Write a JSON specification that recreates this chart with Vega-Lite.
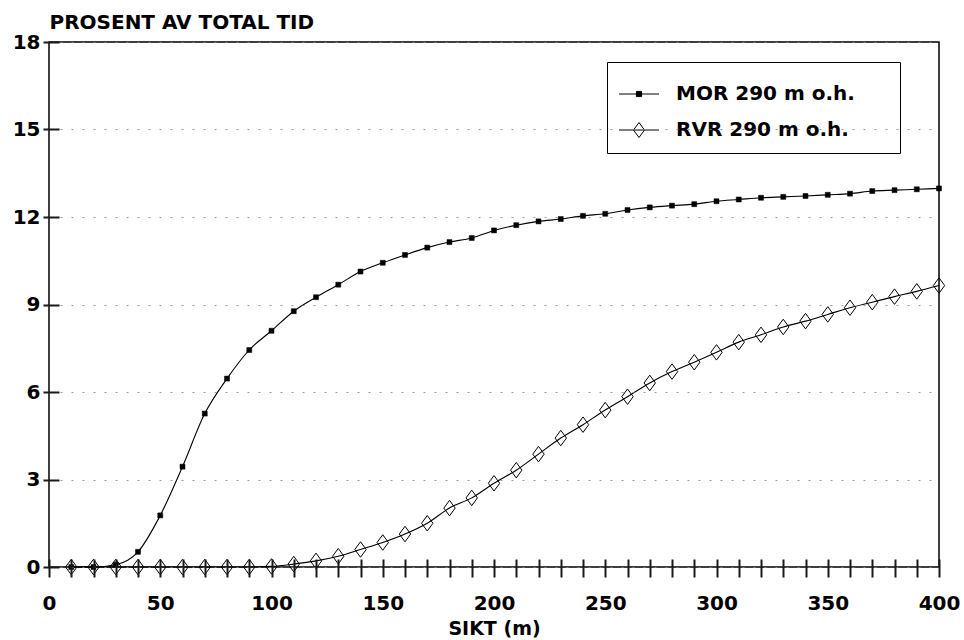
{
  "$schema": "https://vega.github.io/schema/vega-lite/v6.json",
  "width": 890,
  "height": 525,
  "autosize": {"type": "none"},
  "padding": {"left": 49, "top": 42, "right": 25, "bottom": 73},
  "background": "white",
  "config": {
    "view": {"stroke": "black", "strokeWidth": 1.5},
    "font": "DejaVu Sans",
    "axis": {"ticks": true, "tickColor": "#1a1a1a", "tickOpacity": 1}
  },
  "data": {
    "values": [
      {"sikt": 10, "prosent": 0, "serie": "MOR 290 m o.h."},
      {"sikt": 20, "prosent": 0, "serie": "MOR 290 m o.h."},
      {"sikt": 30, "prosent": 0.08, "serie": "MOR 290 m o.h."},
      {"sikt": 40, "prosent": 0.52, "serie": "MOR 290 m o.h."},
      {"sikt": 50, "prosent": 1.77, "serie": "MOR 290 m o.h."},
      {"sikt": 60, "prosent": 3.44, "serie": "MOR 290 m o.h."},
      {"sikt": 70, "prosent": 5.26, "serie": "MOR 290 m o.h."},
      {"sikt": 80, "prosent": 6.46, "serie": "MOR 290 m o.h."},
      {"sikt": 90, "prosent": 7.44, "serie": "MOR 290 m o.h."},
      {"sikt": 100, "prosent": 8.1, "serie": "MOR 290 m o.h."},
      {"sikt": 110, "prosent": 8.77, "serie": "MOR 290 m o.h."},
      {"sikt": 120, "prosent": 9.25, "serie": "MOR 290 m o.h."},
      {"sikt": 130, "prosent": 9.68, "serie": "MOR 290 m o.h."},
      {"sikt": 140, "prosent": 10.13, "serie": "MOR 290 m o.h."},
      {"sikt": 150, "prosent": 10.43, "serie": "MOR 290 m o.h."},
      {"sikt": 160, "prosent": 10.7, "serie": "MOR 290 m o.h."},
      {"sikt": 170, "prosent": 10.95, "serie": "MOR 290 m o.h."},
      {"sikt": 180, "prosent": 11.14, "serie": "MOR 290 m o.h."},
      {"sikt": 190, "prosent": 11.28, "serie": "MOR 290 m o.h."},
      {"sikt": 200, "prosent": 11.54, "serie": "MOR 290 m o.h."},
      {"sikt": 210, "prosent": 11.72, "serie": "MOR 290 m o.h."},
      {"sikt": 220, "prosent": 11.85, "serie": "MOR 290 m o.h."},
      {"sikt": 230, "prosent": 11.93, "serie": "MOR 290 m o.h."},
      {"sikt": 240, "prosent": 12.04, "serie": "MOR 290 m o.h."},
      {"sikt": 250, "prosent": 12.11, "serie": "MOR 290 m o.h."},
      {"sikt": 260, "prosent": 12.24, "serie": "MOR 290 m o.h."},
      {"sikt": 270, "prosent": 12.33, "serie": "MOR 290 m o.h."},
      {"sikt": 280, "prosent": 12.39, "serie": "MOR 290 m o.h."},
      {"sikt": 290, "prosent": 12.44, "serie": "MOR 290 m o.h."},
      {"sikt": 300, "prosent": 12.54, "serie": "MOR 290 m o.h."},
      {"sikt": 310, "prosent": 12.6, "serie": "MOR 290 m o.h."},
      {"sikt": 320, "prosent": 12.66, "serie": "MOR 290 m o.h."},
      {"sikt": 330, "prosent": 12.69, "serie": "MOR 290 m o.h."},
      {"sikt": 340, "prosent": 12.72, "serie": "MOR 290 m o.h."},
      {"sikt": 350, "prosent": 12.76, "serie": "MOR 290 m o.h."},
      {"sikt": 360, "prosent": 12.8, "serie": "MOR 290 m o.h."},
      {"sikt": 370, "prosent": 12.89, "serie": "MOR 290 m o.h."},
      {"sikt": 380, "prosent": 12.92, "serie": "MOR 290 m o.h."},
      {"sikt": 390, "prosent": 12.95, "serie": "MOR 290 m o.h."},
      {"sikt": 400, "prosent": 12.98, "serie": "MOR 290 m o.h."},
      {"sikt": 10, "prosent": 0, "serie": "RVR 290 m o.h."},
      {"sikt": 20, "prosent": 0, "serie": "RVR 290 m o.h."},
      {"sikt": 30, "prosent": 0, "serie": "RVR 290 m o.h."},
      {"sikt": 40, "prosent": 0, "serie": "RVR 290 m o.h."},
      {"sikt": 50, "prosent": 0, "serie": "RVR 290 m o.h."},
      {"sikt": 60, "prosent": 0, "serie": "RVR 290 m o.h."},
      {"sikt": 70, "prosent": 0, "serie": "RVR 290 m o.h."},
      {"sikt": 80, "prosent": 0, "serie": "RVR 290 m o.h."},
      {"sikt": 90, "prosent": 0, "serie": "RVR 290 m o.h."},
      {"sikt": 100, "prosent": 0.02, "serie": "RVR 290 m o.h."},
      {"sikt": 110, "prosent": 0.1, "serie": "RVR 290 m o.h."},
      {"sikt": 120, "prosent": 0.21, "serie": "RVR 290 m o.h."},
      {"sikt": 130, "prosent": 0.37, "serie": "RVR 290 m o.h."},
      {"sikt": 140, "prosent": 0.6, "serie": "RVR 290 m o.h."},
      {"sikt": 150, "prosent": 0.84, "serie": "RVR 290 m o.h."},
      {"sikt": 160, "prosent": 1.13, "serie": "RVR 290 m o.h."},
      {"sikt": 170, "prosent": 1.5, "serie": "RVR 290 m o.h."},
      {"sikt": 180, "prosent": 2.02, "serie": "RVR 290 m o.h."},
      {"sikt": 190, "prosent": 2.37, "serie": "RVR 290 m o.h."},
      {"sikt": 200, "prosent": 2.87, "serie": "RVR 290 m o.h."},
      {"sikt": 210, "prosent": 3.32, "serie": "RVR 290 m o.h."},
      {"sikt": 220, "prosent": 3.87, "serie": "RVR 290 m o.h."},
      {"sikt": 230, "prosent": 4.42, "serie": "RVR 290 m o.h."},
      {"sikt": 240, "prosent": 4.88, "serie": "RVR 290 m o.h."},
      {"sikt": 250, "prosent": 5.38, "serie": "RVR 290 m o.h."},
      {"sikt": 260, "prosent": 5.84, "serie": "RVR 290 m o.h."},
      {"sikt": 270, "prosent": 6.31, "serie": "RVR 290 m o.h."},
      {"sikt": 280, "prosent": 6.7, "serie": "RVR 290 m o.h."},
      {"sikt": 290, "prosent": 7.02, "serie": "RVR 290 m o.h."},
      {"sikt": 300, "prosent": 7.36, "serie": "RVR 290 m o.h."},
      {"sikt": 310, "prosent": 7.71, "serie": "RVR 290 m o.h."},
      {"sikt": 320, "prosent": 7.96, "serie": "RVR 290 m o.h."},
      {"sikt": 330, "prosent": 8.23, "serie": "RVR 290 m o.h."},
      {"sikt": 340, "prosent": 8.43, "serie": "RVR 290 m o.h."},
      {"sikt": 350, "prosent": 8.66, "serie": "RVR 290 m o.h."},
      {"sikt": 360, "prosent": 8.89, "serie": "RVR 290 m o.h."},
      {"sikt": 370, "prosent": 9.08, "serie": "RVR 290 m o.h."},
      {"sikt": 380, "prosent": 9.27, "serie": "RVR 290 m o.h."},
      {"sikt": 390, "prosent": 9.45, "serie": "RVR 290 m o.h."},
      {"sikt": 400, "prosent": 9.65, "serie": "RVR 290 m o.h."}
    ]
  },
  "encoding": {
    "x": {
      "field": "sikt",
      "type": "quantitative",
      "scale": {"domain": [0, 400], "nice": false},
      "axis": {
        "zindex": 1,
        "offset": -8,
        "domain": false,
        "values": [0, 10, 20, 30, 40, 50, 60, 70, 80, 90, 100, 110, 120, 130, 140, 150, 160, 170, 180, 190, 200, 210, 220, 230, 240, 250, 260, 270, 280, 290, 300, 310, 320, 330, 340, 350, 360, 370, 380, 390, 400],
        "labelExpr": "datum.value % 50 === 0 ? datum.label : ''",
        "labelFlush": false,
        "labelOverlap": false,
        "grid": false,
        "tickSize": 18,
        "tickWidth": 2,
        "labelPadding": 16,
        "labelFont": "DejaVu Sans",
        "labelFontSize": 20,
        "labelFontWeight": "bold",
        "labelColor": "black",
        "title": "SIKT (m)",
        "titleFont": "DejaVu Sans",
        "titleFontSize": 19,
        "titleFontWeight": "bold",
        "titleColor": "black",
        "titleBaseline": "alphabetic",
        "titleY": 75
      }
    },
    "y": {
      "field": "prosent",
      "type": "quantitative",
      "scale": {"domain": [0, 18], "nice": false},
      "axis": {
        "zindex": 1,
        "offset": -10,
        "domain": false,
        "values": [0, 3, 6, 9, 12, 15, 18],
        "grid": true,
        "gridColor": "#888888",
        "gridDash": [2, 9],
        "gridWidth": 1,
        "gridOpacity": 0.85,
        "tickSize": 16,
        "tickWidth": 2,
        "labelPadding": 3,
        "labelFont": "DejaVu Sans",
        "labelFontSize": 20,
        "labelFontWeight": "bold",
        "labelColor": "black",
        "title": "PROSENT AV TOTAL TID",
        "titleFont": "DejaVu Sans",
        "titleFontSize": 20,
        "titleFontWeight": "bold",
        "titleColor": "black",
        "titleAngle": 0,
        "titleAlign": "left",
        "titleBaseline": "alphabetic",
        "titleX": -10,
        "titleY": -14
      }
    }
  },
  "layer": [
    {
      "mark": {"type": "line", "interpolate": "monotone", "strokeWidth": 1.1},
      "encoding": {
        "stroke": {
          "field": "serie",
          "type": "nominal",
          "scale": {"domain": ["MOR 290 m o.h.", "RVR 290 m o.h."], "range": ["black", "black"]},
          "legend": {
            "orient": "none",
            "legendX": 558,
            "legendY": 20,
            "title": null,
            "padding": 13,
            "strokeColor": "black",
            "fillColor": "white",
            "symbolSize": 1369,
            "rowPadding": 7,
            "labelOffset": 18,
            "labelFont": "DejaVu Sans",
            "labelFontSize": 20,
            "labelFontWeight": "bold",
            "labelColor": "black",
            "labelLimit": 400,
            "labelExpr": "datum.label + '\u2800\u2800'",
            "encode": {
              "symbols": {
                "update": {
                  "shape": {"signal": "datum.value === 'MOR 290 m o.h.' ? 'M-1.08,0L1.08,0M-0.14,-0.14L0.14,-0.14L0.14,0.14L-0.14,0.14Z' : 'M-1.08,0L1.08,0M0,-0.405L0.297,0L0,0.405L-0.297,0Z'"},
                  "fill": {"signal": "datum.value === 'MOR 290 m o.h.' ? 'black' : 'white'"},
                  "stroke": {"value": "black"},
                  "strokeWidth": {"value": 1},
                  "opacity": {"value": 1}
                }
              }
            }
          }
        }
      }
    },
    {
      "transform": [{"filter": "datum.serie === 'MOR 290 m o.h.'"}],
      "mark": {"type": "point", "shape": "square", "size": 25, "filled": true, "fill": "black", "stroke": "black", "strokeWidth": 0.5, "opacity": 1}
    },
    {
      "transform": [{"filter": "datum.serie === 'RVR 290 m o.h.'"}],
      "mark": {"type": "point", "shape": "M0,-1.36L1,0L0,1.36L-1,0Z", "size": 130, "filled": true, "fill": "white", "fillOpacity": 0, "stroke": "black", "strokeWidth": 1, "opacity": 1}
    }
  ]
}
